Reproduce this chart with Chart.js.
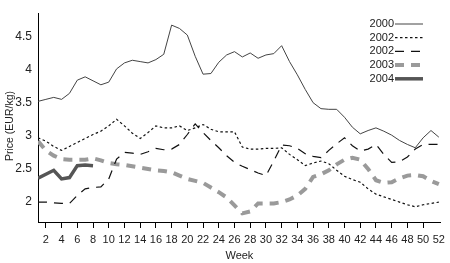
<!DOCTYPE html>
<html>
<head>
<meta charset="utf-8">
<script src="https://cdn.jsdelivr.net/npm/chart.js@4.4.1/dist/chart.umd.min.js"></script>
<style>
  html, body { margin: 0; padding: 0; background: #fff; }
</style>
</head>
<body>
<canvas id="priceChart" width="450" height="263"></canvas>
<script>
const weeks = [1, 2, 3, 4, 5, 6, 7, 8, 9, 10, 11, 12, 13, 14, 15, 16, 17, 18, 19, 20,
    21, 22, 23, 24, 25, 26, 27, 28, 29, 30, 31, 32, 33, 34, 35, 36, 37, 38, 39, 40,
    41, 42, 43, 44, 45, 46, 47, 48, 49, 50, 51, 52];
const xTicks = [2, 4, 6, 8, 10, 12, 14, 16, 18, 20, 22, 24, 26, 28, 30, 32, 34, 36, 38, 40, 42, 44, 46, 48, 50, 52];
const yTicks = [2, 2.5, 3, 3.5, 4, 4.5];
const seriesNames = ["2000", "2002", "2002", "2003", "2004"];

const price2000 = [3.52, 3.55, 3.58, 3.55, 3.64, 3.84, 3.89, 3.83, 3.77, 3.81,
    4.01, 4.10, 4.14, 4.12, 4.10, 4.15, 4.23, 4.67, 4.62, 4.52,
    4.20, 3.93, 3.94, 4.11, 4.22, 4.27, 4.19, 4.25, 4.17, 4.22,
    4.24, 4.36, 4.12, 3.92, 3.70, 3.50, 3.41, 3.40, 3.40, 3.28,
    3.13, 3.03, 3.08, 3.12, 3.07, 3.01, 2.93, 2.87, 2.82, 2.97,
    3.08, 2.98];
const price2002a = [2.97, 2.92, 2.84, 2.78, 2.84, 2.90, 2.96, 3.02, 3.07, 3.15,
    3.25, 3.15, 3.04, 2.96, 3.05, 3.15, 3.12, 3.12, 3.15, 3.08,
    3.12, 3.17, 3.10, 3.06, 3.06, 3.06, 2.83, 2.80, 2.80, 2.81,
    2.81, 2.82, 2.72, 2.64, 2.55, 2.59, 2.62, 2.58, 2.48, 2.39,
    2.34, 2.30, 2.20, 2.12, 2.08, 2.04, 2.00, 1.96, 1.93, 1.96,
    1.98, 2.00];
const price2002b = [2.00, 2.00, 1.99, 1.98, 1.98, 2.10, 2.20, 2.22, 2.23, 2.35,
    2.65, 2.75, 2.74, 2.72, 2.76, 2.81, 2.79, 2.80, 2.87, 3.02,
    3.18, 3.05, 2.93, 2.82, 2.70, 2.60, 2.54, 2.49, 2.44, 2.40,
    2.62, 2.86, 2.85, 2.81, 2.73, 2.69, 2.67, 2.78, 2.88, 2.97,
    2.85, 2.77, 2.80, 2.87, 2.72, 2.60, 2.61, 2.68, 2.80, 2.87,
    2.87, 2.87];
const price2003 = [2.92, 2.78, 2.70, 2.65, 2.64, 2.64, 2.64, 2.66, 2.63, 2.59,
    2.57, 2.56, 2.54, 2.52, 2.50, 2.48, 2.47, 2.45, 2.40, 2.35,
    2.32, 2.29, 2.22, 2.15, 2.07, 1.95, 1.83, 1.86, 1.98, 1.98,
    1.98, 2.00, 2.04, 2.10, 2.20, 2.38, 2.42, 2.48, 2.57, 2.64,
    2.67, 2.64, 2.50, 2.33, 2.29, 2.30, 2.36, 2.40, 2.41, 2.39,
    2.32, 2.27];
const price2004 = [2.36, 2.42, 2.48, 2.35, 2.37, 2.55, 2.56, 2.55];

const fontFamily = 'Arial, "Liberation Sans", Helvetica, sans-serif';

function toPoints(values) {
    return values.map((v, i) => ({ x: weeks[i], y: v }));
}

// legend on the right (text before line) and rotated y title
const extraDrawing = {
    id: "extraDrawing",
    afterDraw(chart) {
        const ctx = chart.ctx;
        ctx.save();
        ctx.font = "11px " + fontFamily;
        ctx.fillStyle = "#222";
        ctx.textAlign = "right";
        ctx.textBaseline = "middle";
        chart.data.datasets.forEach((ds, i) => {
            const y = 24 + i * 13.7;
            ctx.fillText(ds.label, 394, y);
            ctx.beginPath();
            ctx.setLineDash(ds.borderDash || []);
            ctx.lineWidth = ds.borderWidth;
            ctx.strokeStyle = ds.borderColor;
            ctx.moveTo(395, y);
            ctx.lineTo(423, y);
            ctx.stroke();
        });
        ctx.setLineDash([]);
        ctx.translate(10, 126);
        ctx.rotate(-Math.PI / 2);
        ctx.textAlign = "center";
        ctx.font = "10.5px " + fontFamily;
        ctx.fillText("Price (EUR/kg)", 0, 0);
        ctx.restore();
    }
};

const ctx = document.getElementById("priceChart").getContext("2d");
new Chart(ctx, {
    type: "line",
    data: {
        datasets: [
            { label: seriesNames[0], data: toPoints(price2000), borderColor: "#444", borderWidth: 1 },
            { label: seriesNames[1], data: toPoints(price2002a), borderColor: "#111", borderWidth: 1.2, borderDash: [2.5, 2.5] },
            { label: seriesNames[2], data: toPoints(price2002b), borderColor: "#111", borderWidth: 1.2, borderDash: [9, 7] },
            { label: seriesNames[3], data: toPoints(price2003), borderColor: "#9a9a9a", borderWidth: 4, borderDash: [9, 7] },
            { label: seriesNames[4], data: toPoints(price2004), borderColor: "#555", borderWidth: 3.5 }
        ]
    },
    options: {
        responsive: false,
        animation: false,
        devicePixelRatio: 1,
        elements: { point: { radius: 0 }, line: { tension: 0, fill: false } },
        layout: { padding: { top: 10, right: 8, left: 0, bottom: 0 } },
        plugins: { legend: { display: false }, tooltip: { enabled: false } },
        scales: {
            x: {
                type: "linear",
                min: 1,
                max: 52.25,
                afterBuildTicks: scale => { scale.ticks = xTicks.map(v => ({ value: v })); },
                afterFit: scale => { scale.height = 41; },
                ticks: { autoSkip: false, maxRotation: 0, padding: 5, color: "#222", font: { size: 11, family: fontFamily } },
                grid: {
                    drawOnChartArea: false,
                    drawTicks: true,
                    tickLength: 6,
                    color: c => (c.tick && c.tick.value === 52 ? "rgba(0,0,0,0)" : "#000")
                },
                border: { display: true, color: "#000", width: 1 },
                title: { display: true, text: "Week", color: "#222", font: { size: 11, family: fontFamily }, padding: 0 }
            },
            y: {
                min: 1.7,
                max: 4.85,
                afterBuildTicks: scale => { scale.ticks = yTicks.map(v => ({ value: v })); },
                afterFit: scale => { scale.width = 38; },
                ticks: {
                    padding: 6,
                    color: "#222",
                    font: { size: 12, family: fontFamily },
                    callback: v => String(v)
                },
                grid: { drawOnChartArea: false, drawTicks: false, color: "rgba(0,0,0,0)" },
                border: { display: true, color: "#000", width: 1 }
            }
        }
    },
    plugins: [extraDrawing]
});
</script>
</body>
</html>
